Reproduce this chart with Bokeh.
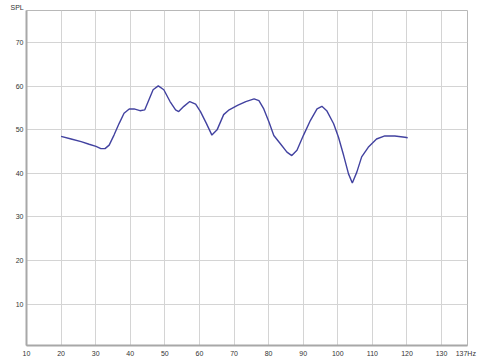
from bokeh.plotting import figure
from bokeh.models import FixedTicker, Range1d, Title
from bokeh.embed import file_html
from bokeh.resources import INLINE

# frequency (Hz) and SPL values
freq = [20.0, 22.9, 25.8, 28.1, 30.1, 31.5, 32.7, 33.9, 35.3, 36.8, 38.2, 39.7,
        41.1, 42.8, 44.2, 45.4, 46.6, 48.1, 49.7, 51.5, 53.1, 54.0, 55.5, 57.2,
        58.9, 60.3, 62.0, 63.6, 65.1, 67.0, 68.6, 71.0, 73.4, 75.8, 77.2, 78.6,
        80.1, 81.5, 83.4, 85.3, 86.7, 88.2, 90.1, 92.1, 94.0, 95.4, 96.8, 98.8,
        100.2, 101.7, 103.1, 104.2, 105.5, 106.9, 108.8, 111.2, 113.6, 116.5,
        119.4, 120.2]
spl = [48.5, 47.9, 47.3, 46.7, 46.2, 45.7, 45.7, 46.5, 48.8, 51.5, 53.8, 54.8,
       54.8, 54.4, 54.6, 56.9, 59.2, 60.1, 59.2, 56.5, 54.6, 54.2, 55.4, 56.5,
       55.9, 54.2, 51.5, 48.8, 50.0, 53.5, 54.6, 55.6, 56.5, 57.1, 56.7, 54.8,
       51.8, 48.7, 46.8, 44.9, 44.1, 45.3, 48.8, 52.2, 54.8, 55.4, 54.4, 51.4,
       48.3, 44.1, 39.9, 37.8, 40.3, 43.8, 46.0, 47.9, 48.6, 48.6, 48.3, 48.2]

x_ticks = [10, 20, 30, 40, 50, 60, 70, 80, 90, 100, 110, 120, 130, 137]
x_labels = {137: "137Hz"}
y_ticks = [10, 20, 30, 40, 50, 60, 70]

FONT = "Liberation Sans"

p = figure(width=480, height=359, output_backend="svg", toolbar_location=None,
           x_range=Range1d(10, 137.5), y_range=Range1d(0.5, 77.4),
           min_border_left=26, min_border_right=13, min_border_top=10,
           min_border_bottom=14)
p.title = Title(text="SPL", align="left", offset=-16, standoff=0,
                text_font=FONT, text_font_size="7px", text_font_style="normal",
                text_color="#333333")
p.background_fill_color = "white"
p.border_fill_color = "white"
p.outline_line_color = "#b8b8b8"
p.outline_line_width = 1

p.line(freq, spl, line_color="#4242a0", line_width=1.4)

for ax in (p.xaxis[0], p.yaxis[0]):
    ax.axis_line_color = "#a8a8a8"
    ax.axis_line_width = 2
    ax.major_tick_line_color = None
    ax.minor_tick_line_color = None
    ax.major_tick_out = 0
    ax.major_tick_in = 0
    ax.major_label_text_font = FONT
    ax.major_label_text_font_size = "7px"
    ax.major_label_text_color = "#333333"

p.xaxis[0].ticker = FixedTicker(ticks=x_ticks)
p.xaxis[0].major_label_overrides = x_labels
p.xaxis[0].major_label_standoff = 4
p.yaxis[0].ticker = FixedTicker(ticks=y_ticks)
p.yaxis[0].major_label_standoff = 3

p.xgrid[0].ticker = FixedTicker(ticks=x_ticks[1:-1])
p.ygrid[0].ticker = FixedTicker(ticks=y_ticks)
for g in (p.xgrid[0], p.ygrid[0]):
    g.grid_line_color = "#d4d4d4"
    g.grid_line_width = 1

open("out.html", "w").write(file_html(p, INLINE))
